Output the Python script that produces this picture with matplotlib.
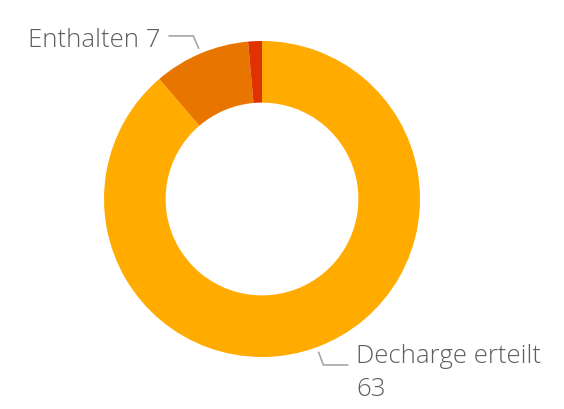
import numpy as np
import matplotlib
matplotlib.use("Agg")
import matplotlib.pyplot as plt

# ── Data ──────────────────────────────────────────────────────────────────────
labels = ["Decharge erteilt", "Enthalten", ""]
values = [63, 7, 1]
colors = ["#FFAB00", "#E87500", "#E03200"]
shown  = ["Decharge erteilt\n63", "Enthalten 7", None]

W, H = 564, 409
CX, CY, R = 262, H - 199, 158

fig = plt.figure(figsize=(W / 100, H / 100), dpi=100, facecolor="white")
ax = fig.add_axes([0, 0, 1, 1])

wedges, _ = ax.pie(values, colors=colors, startangle=90, counterclock=False,
                   center=(CX, CY), radius=R,
                   wedgeprops=dict(width=R * 0.39, linewidth=0))

# pie() resets the limits, so set the pixel-like frame afterwards
ax.set_xlim(0, W)
ax.set_ylim(0, H)
ax.set_aspect("equal")
ax.axis("off")

line_c = "#A6A6A6"
text_c = "#5F5F5F"
font = dict(fontsize=18.5, color=text_c, family="Open Sans", fontweight="light")
for w, txt in zip(wedges, shown):
    if txt is None:
        continue
    mid = np.deg2rad((w.theta1 + w.theta2) / 2)
    dx, dy = np.cos(mid), np.sin(mid)
    p0 = (CX + dx * R * 1.03, CY + dy * R * 1.03)
    p1 = (CX + dx * R * 1.12, CY + dy * R * 1.12)
    side = 1 if dx > 0 else -1
    p2 = (p1[0] + side * 25, p1[1])
    ax.plot([p0[0], p1[0], p2[0]], [p0[1], p1[1], p2[1]],
            color=line_c, lw=1.2, solid_capstyle="butt")
    if side > 0:
        ax.text(p2[0] + 8, p2[1] + 21, txt, ha="left", va="top",
                linespacing=1.4, **font)
    else:
        ax.text(p2[0] - 8, p2[1] - 5, txt, ha="right", va="center", **font)

fig.savefig("out.png", dpi=100, facecolor="white")
